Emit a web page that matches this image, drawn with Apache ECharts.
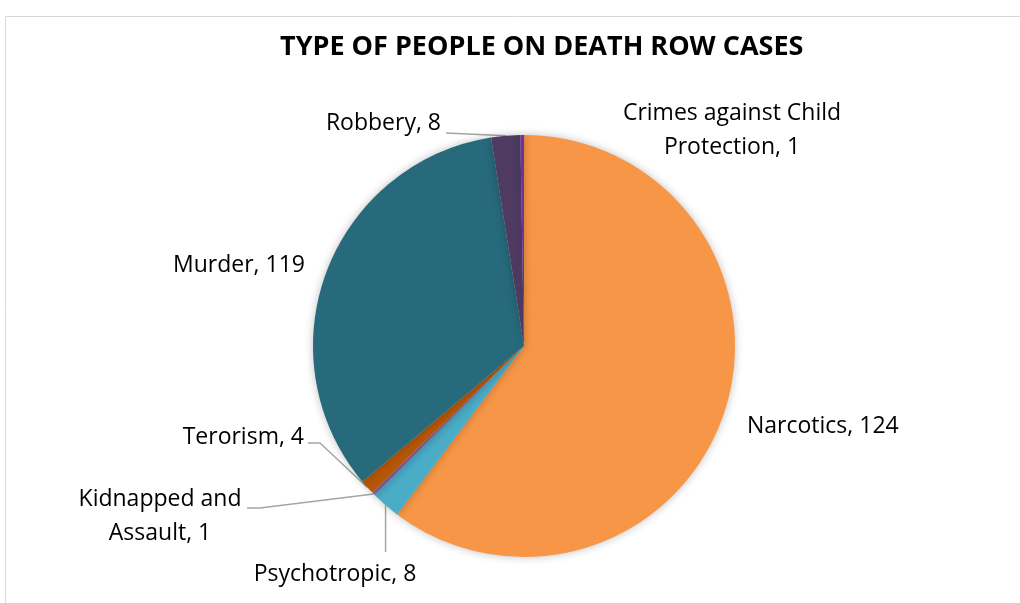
<!DOCTYPE html>
<html><head><meta charset="utf-8">
<script src="https://cdn.jsdelivr.net/npm/echarts@6/dist/echarts.min.js"></script>
<style>html,body{margin:0;padding:0;background:#fff}#c{width:1020px;height:603px}</style>
</head><body><div id="c"></div>
<script>
const categories = ["Narcotics", "Psychotropic", "Kidnapped and\nAssault", "Terorism", "Murder", "Robbery", "Crimes against Child\nProtection"];
// slice sizes as drawn in the picture (degrees of the circle)
const sliceValues = [217, 8, 1, 4, 121, 8, 1];
// numbers printed in the data labels
const labelValues = [124, 8, 1, 4, 119, 8, 1];
const colors = ["#F79646", "#4BACC6", "#8064A2", "#B65708", "#276A7C", "#4F3B62", "#7030A0"];
const showLine = [false, true, true, true, false, true, false];

// label placement (x, y, align)
const labelPos = [
  [747, 426, "left"],
  [335, 574, "center"],
  [160, 516, "center"],
  [304, 437, "right"],
  [305, 265, "right"],
  [441, 123, "right"],
  [732, 130, "center"]
];
// leader-line routing from the slice anchor to the label
const leaders = {
  1: a => [a, [a[0], 552]],
  2: a => [a, [260, 508], [247, 508]],
  3: a => [a, [320, 443], [308, 443]],
  5: a => [a, [446, 133]]
};

const chart = echarts.init(document.getElementById('c'));
chart.setOption({
  animation: false,
  backgroundColor: '#fff',
  title: {
    text: 'TYPE OF PEOPLE ON DEATH ROW CASES',
    left: 275, top: 29,
    textStyle: {fontFamily: 'Open Sans', fontWeight: 'bold', fontSize: 27, color: '#000'}
  },
  graphic: [{type: 'rect', shape: {x: 5.5, y: 16.5, width: 1200, height: 800}, style: {fill: 'none', stroke: '#d9d9d9', lineWidth: 1}, silent: true}],
  series: [{
    type: 'pie',
    center: [524, 346],
    radius: 211,
    startAngle: 90,
    clockwise: true,
    itemStyle: {shadowBlur: 8, shadowColor: 'rgba(0,0,0,0.25)'},
    label: {
      show: true, fontFamily: 'Open Sans', fontSize: 23, color: '#000', lineHeight: 34,
      formatter: p => p.name + ', ' + labelValues[p.dataIndex]
    },
    labelLine: {show: true, lineStyle: {color: '#A6A6A6', width: 1.5}, length: 10, length2: 10},
    labelLayout: function (p) {
      const lp = labelPos[p.dataIndex];
      const out = {x: lp[0], y: lp[1], align: lp[2], verticalAlign: 'middle'};
      const f = leaders[p.dataIndex];
      if (f && p.labelLinePoints) {
        out.labelLinePoints = f(p.labelLinePoints[0].slice());
      }
      return out;
    },
    data: categories.map((c, i) => ({
      name: c, value: sliceValues[i],
      itemStyle: {color: colors[i]},
      labelLine: {show: showLine[i]}
    }))
  }]
});
</script></body></html>
